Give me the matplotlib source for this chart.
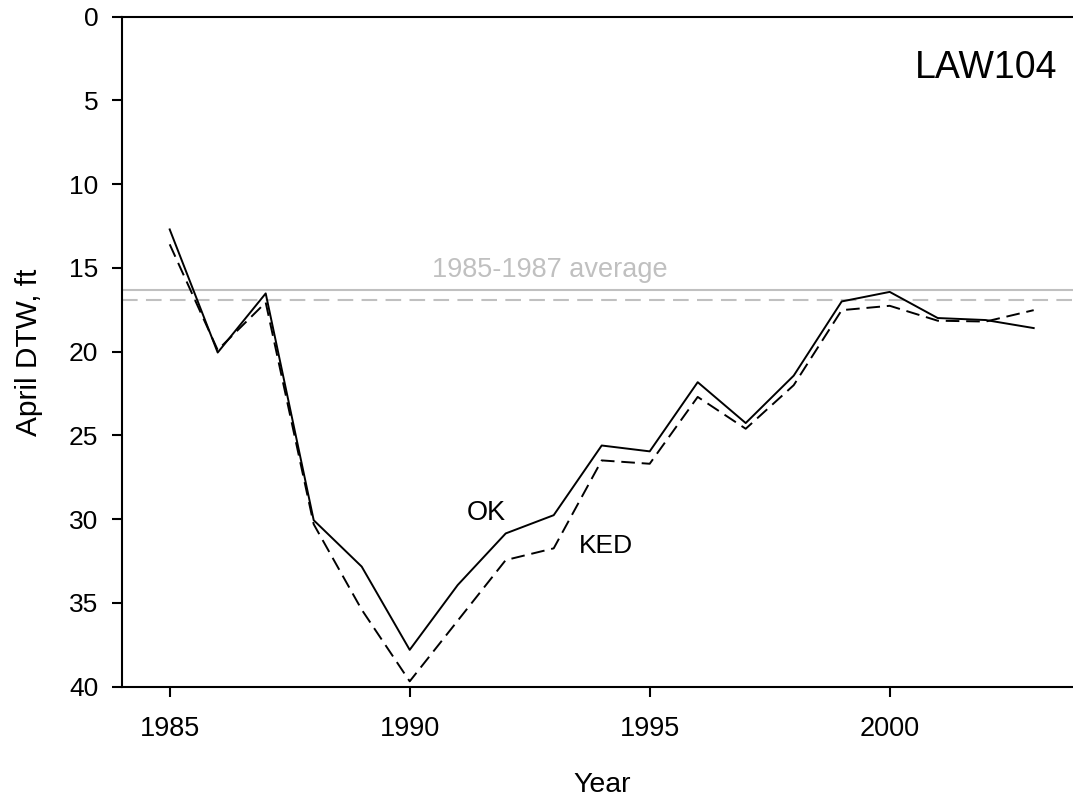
import matplotlib
matplotlib.use("Agg")
import matplotlib.pyplot as plt

plt.rcParams['font.family'] = ['Liberation Sans', 'DejaVu Sans']

years = list(range(1985, 2004))
ok_dtw = [12.7, 20.05, 16.52, 30.06, 32.83, 37.8, 33.93, 30.85, 29.76, 25.6, 25.95,
          21.82, 24.26, 21.43, 17.0, 16.43, 17.99, 18.11, 18.59]
ked_dtw = [13.59, 19.9, 17.06, 30.3, 35.4, 39.68, 36.06, 32.44, 31.74, 26.49, 26.69,
           22.7, 24.6, 22.0, 17.52, 17.26, 18.15, 18.2, 17.52]
ok_avg = 16.31
ked_avg = 16.92
x_ticks = [1985, 1990, 1995, 2000]
y_ticks = [0, 5, 10, 15, 20, 25, 30, 35, 40]

W, H = 1073, 801
fig = plt.figure(figsize=(W / 100, H / 100), dpi=100)
ax = fig.add_axes([121.7 / W, 1 - 686.7 / H, (W - 121.7) / W, (686.7 - 16.7) / H])

gray = '#c0c0c0'
ax.axhline(ok_avg, color=gray, lw=1.5, zorder=1)
ax.axhline(ked_avg, color=gray, lw=1.5, dashes=(7.5, 4), zorder=1)

ax.plot(years, ok_dtw, color='black', lw=1.4, zorder=3)
ax.plot(years, ked_dtw, color='black', lw=1.4, dashes=(7, 3.5), zorder=3)

ax.set_xlim(1984, 1984 + (W - 121.7) / 48)
ax.set_ylim(40, 0)
ax.set_xticks(x_ticks)
ax.set_yticks(y_ticks)
ax.tick_params(axis='both', direction='out', length=7.2, width=1.5)
ax.tick_params(axis='x', pad=14, labelsize=19.5)
ax.tick_params(axis='y', pad=9.6, labelsize=19)

for s in ['left', 'bottom', 'top']:
    ax.spines[s].set_linewidth(1.5)
ax.spines['right'].set_visible(False)

ax.text(2002.0, 3.05, 'LAW104', fontsize=27, ha='center', va='center')
ax.text(1992.92, 15.55, '1985-1987 average', fontsize=19.5, color=gray,
        ha='center', va='baseline')
ax.text(1991.59, 30.02, 'OK', fontsize=19.5, ha='center', va='baseline')
ax.text(1994.09, 32.0, 'KED', fontsize=19, ha='center', va='baseline')

fig.text(602 / W, 1 - 792 / H, 'Year', fontsize=20.5, ha='center', va='baseline')
fig.text(36.7 / W, 1 - 352.5 / H, 'April DTW, ft', fontsize=21.5, ha='center',
         va='baseline', rotation=90, rotation_mode='anchor')

fig.savefig('out.png', dpi=100)
